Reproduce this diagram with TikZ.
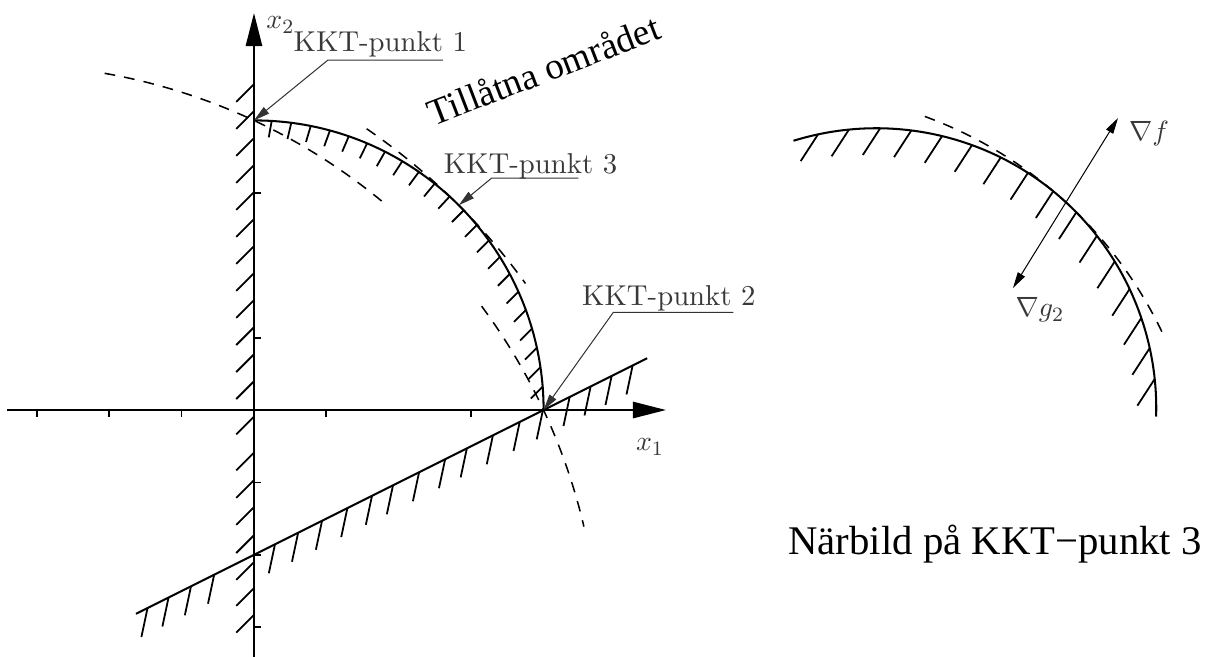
\documentclass[tikz,border=0pt]{standalone}
\usepackage{fontspec}
\newfontfamily\timesfont{Liberation Serif}
\newfontfamily\cmten{lmroman10-regular.otf}
\usetikzlibrary{arrows.meta,calc}
\begin{document}
\begin{tikzpicture}[x=1cm,y=1cm,
  axis/.style={line width=0.8pt,-{Triangle[length=13pt,width=6.4pt]}},
  bound/.style={line width=0.8pt},
  hatch/.style={line width=0.7pt},
  lvl/.style={line width=0.6pt,dash pattern=on 4.2pt off 3.6pt},
  lead/.style={line width=0.4pt,black!80},
  leadarrow/.style={lead,-{Triangle[length=6.3pt,width=3.2pt]}},
  dblarrow/.style={line width=0.4pt,{Triangle[length=6.3pt,width=3.2pt]}-{Triangle[length=6.3pt,width=3.2pt]}},
  lbl/.style={text=black!78,inner sep=0pt,font=\cmten\fontsize{11.3}{13}\selectfont},
  tickmark/.style={line width=0.7pt}
]
\useasboundingbox (-3.508,-3.398) rectangle (13.163,5.663);

% key points
\coordinate (O) at (0,0);
\coordinate (K1) at (0,4);
\coordinate (K2) at (4,0);
\coordinate (K3) at (45:4);
\coordinate (xs) at (-3.41,0);
\coordinate (xe) at (5.69,0);
\coordinate (ys) at (0,-3.45);
\coordinate (ye) at (0,5.483);
\coordinate (L1) at (-1.63,-2.815);
\coordinate (L2) at (5.43,0.715);
\coordinate (F) at (-3.5,-3.5);

% hatches on the x2 axis
\foreach \y in {4.5,4.127,3.754,3.381,3.008,2.635,2.262,1.889,1.516,1.143,0.77,0.397,-0.09,-0.59,-0.97,-1.34,-1.73,-2.10,-2.46,-2.83}
  \draw[hatch] (0,\y) -- ++(-0.245,-0.245);

% hatches on the line
\foreach \x in {-1.47,-1.18,-0.87,-0.55,0.29,0.61,0.94,1.29,1.63,1.92,2.28,2.64,2.94,3.30,3.67,3.99,4.36,4.65,4.94,5.23}
  \draw[hatch] (\x,{0.5*\x-2}) -- ++(-0.085,-0.40);

% hatches inside the circle
\foreach \i in {0,...,21}{
  \pgfmathsetmacro\t{86.5-3.9*\i}
  \pgfmathsetmacro\ph{\t>45 ? -135+(\t-45)*38/45 : -135}
  \draw[hatch] (\t:4) -- ++(\ph:0.23);
}

% axes
\draw[axis] (xs) -- (xe);
\draw[axis] (ys) -- (ye);
\foreach \x in {-3,-2,-1,1,3} \draw[tickmark] (\x,0) -- (\x,-0.1);
\foreach \y in {-3,-2,-1,1,3} \draw[tickmark] (0,\y) -- (0.1,\y);

% constraints
\draw[bound] (K1) arc[start angle=90,end angle=0,radius=4];
\draw[bound] (L1) -- (L2);

% level curves
\draw[lvl] ([shift={(80:8.276)}]F) arc[start angle=80,end angle=50.3,radius=8.276];
\draw[lvl] ([shift={(55.6:8.95)}]F) arc[start angle=55.6,end angle=35.9,radius=8.95];
\draw[lvl] ([shift={(36.6:8.276)}]F) arc[start angle=36.6,end angle=13.2,radius=8.276];

% labels
\node[lbl] (x2) at (0.366,5.318) {$x_2$};
\node[lbl] (x1) at (5.47,-0.511) {$x_1$};
\node[lbl,anchor=base west] (t1) at (0.541,4.945) {KKT-punkt 1};
\node[lbl,anchor=base west] (t3) at (2.615,3.269) {KKT-punkt 3};
\node[lbl,anchor=base west] (t2) at (4.526,1.450) {KKT-punkt 2};
\coordinate (u1a) at (1.022,4.834);
\coordinate (u1b) at (2.610,4.834);
\coordinate (u3a) at (3.283,3.204);
\coordinate (u3b) at (4.479,3.204);
\coordinate (u2a) at (4.963,1.349);
\coordinate (u2b) at (6.620,1.349);
\draw[leadarrow] (u1b) -- (u1a) -- (K1);
\draw[leadarrow] (u3b) -- (u3a) -- (K3);
\draw[leadarrow] (u2b) -- (u2a) -- (K2);
\node[rotate=21,inner sep=0pt,font=\timesfont\fontsize{14.6}{17}\selectfont] (till) at (4.0,4.70) {Tillåtna området};

% close-up
\coordinate (C) at (8.595,0.025);
\coordinate (Cd) at (7.249,-1.455);
\foreach \i in {0,...,15}{
  \pgfmathsetmacro\t{102-6.4*\i}
  \draw[hatch] ([shift={(\t:3.867)}]C) -- ++(237:0.44);
}
\draw[bound] ([shift={(107.2:3.867)}]C) arc[start angle=107.2,end angle=-1.7,radius=3.867];
\draw[lvl] ([shift={(69.9:5.867)}]Cd) arc[start angle=69.9,end angle=24.9,radius=5.867];
\coordinate (ga) at (10.483,1.685);
\coordinate (gb) at (11.934,4.033);
\draw[dblarrow] (ga) -- (gb);
\node[lbl] (nf) at (12.362,3.812) {$\nabla f$};
\node[lbl] (ng) at (10.856,1.381) {$\nabla g_2$};
\node[inner sep=0pt,anchor=base,font=\timesfont\fontsize{16}{19}\selectfont] (nb) at (10.235,-2.0) {Närbild på KKT−punkt 3};
\end{tikzpicture}
\end{document}
